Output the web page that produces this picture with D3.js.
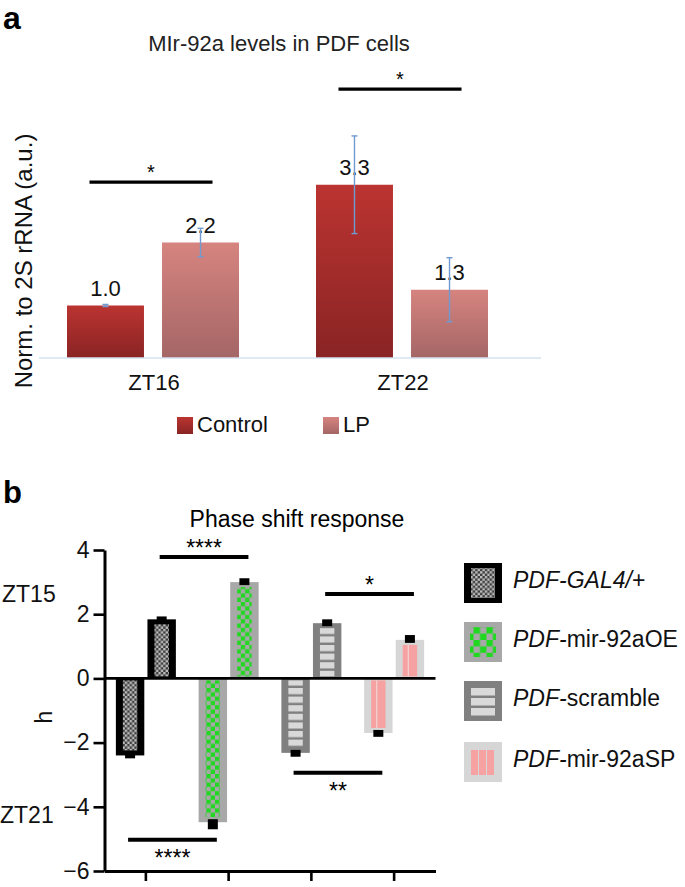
<!DOCTYPE html>
<html><head><meta charset="utf-8">
<script src="https://cdn.jsdelivr.net/npm/d3@7"></script>
<style>
body{margin:0;background:#fff}
svg{display:block;font-family:"Liberation Sans",Arial,Helvetica,sans-serif}
</style>
</head><body>
<script>
// ---------- Panel a data ----------
const aCategories = ["ZT16", "ZT22"];
const aSeries = ["Control", "LP"];
const aControl = [1.0, 3.3];
const aLP = [2.2, 1.3];
const aControlErr = [0.02, 0.93];
const aLPErr = [0.27, 0.61];
const aSigLevels = [3.35, 5.12];
const aSigLabels = ["*", "*"];
const aTitle = "MIr-92a levels in PDF cells";
const aYLabel = "Norm. to 2S rRNA (a.u.)";

// ---------- Panel b data ----------
const bGenotypes = ["PDF-GAL4/+", "PDF-mir-92aOE", "PDF-scramble", "PDF-mir-92aSP"];
const bPulses = ["ZT21", "ZT15"];
const bZT21 = [-2.4, -4.48, -2.32, -1.7];
const bZT15 = [1.84, 3.0, 1.72, 1.2];
const bZT21Sem = [0.09, 0.22, 0.12, 0.12];
const bZT15Sem = [0.09, 0.12, 0.12, 0.15];
const bTicks = [-6, -4, -2, 0, 2, 4];
const bSigFrom = [0, 2, 2, 0];
const bSigTo = [1, 3, 3, 1];
const bSigPulse = ["ZT15", "ZT15", "ZT21", "ZT21"];
const bSigLevel = [3.78, 2.63, -2.94, -5.03];
const bSigLabel = ["****", "*", "**", "****"];
const bTitle = "Phase shift response";
const bYLabel = "h";

// ---------- setup ----------
const svg = d3.select("body").append("svg").attr("width", 685).attr("height", 887);
const defs = svg.append("defs");
function vgrad(id, c1, c2) {
  const g = defs.append("linearGradient").attr("id", id)
    .attr("x1", 0).attr("x2", 0).attr("y1", 0).attr("y2", 1);
  g.append("stop").attr("offset", "0%").attr("stop-color", c1);
  g.append("stop").attr("offset", "100%").attr("stop-color", c2);
}
vgrad("gControl", "#bb3431", "#892424");
vgrad("gLP", "#d6847f", "#a46666");
const aFill = {Control: "url(#gControl)", LP: "url(#gLP)"};

// patterns
function checker(id, size, bg, fg) {
  const p = defs.append("pattern").attr("id", id).attr("patternUnits", "userSpaceOnUse")
    .attr("width", size * 2).attr("height", size * 2);
  p.append("rect").attr("width", size * 2).attr("height", size * 2).attr("fill", bg);
  p.append("rect").attr("width", size).attr("height", size).attr("fill", fg);
  p.append("rect").attr("x", size).attr("y", size).attr("width", size).attr("height", size).attr("fill", fg);
}
checker("pGal4", 2.4, "#3c3c3c", "#bdbdbd");
checker("pOE", 4.3, "#a8a8a8", "#1fd81f");
checker("pOEL", 6.4, "#a8a8a8", "#1fd81f");
(function () {
  const p = defs.append("pattern").attr("id", "pScr").attr("patternUnits", "userSpaceOnUse")
    .attr("width", 10).attr("height", 8.6);
  p.append("rect").attr("width", 10).attr("height", 8.6).attr("fill", "#7f7f7f");
  p.append("rect").attr("width", 10).attr("height", 6.2).attr("fill", "#d9d9d9");
})();

const bStyle = [
  {outer: "#000000", inner: "url(#pGal4)"},
  {outer: "#a8a8a8", inner: "url(#pOE)"},
  {outer: "#808080", inner: "url(#pScr)"},
  {outer: "#d6d6d6", inner: "#f7a2a2", line: "#f5d2d2"}
];

// ================= Panel a =================
const ga = svg.append("g");
ga.append("text").attr("x", 3).attr("y", 29).attr("font-size", 32).attr("font-weight", "bold").text("a");
ga.append("text").attr("x", 279).attr("y", 51).attr("text-anchor", "middle")
  .attr("font-size", 22).attr("fill", "#222").text(aTitle);
ga.append("text").attr("transform", "translate(32,261) rotate(-90)").attr("text-anchor", "middle")
  .attr("font-size", 24).attr("fill", "#111").text(aYLabel);

const xa0 = d3.scaleBand().domain(aCategories).range([28.5, 526.5]);
const xa1 = d3.scaleBand().domain(aSeries).range([38.5, 210.5]).paddingInner(0.19);
const ya = d3.scaleLinear().domain([0, 4]).range([358, 148]);

const aRows = [];
aCategories.forEach((c, i) => {
  aRows.push({cat: c, ser: "Control", v: aControl[i], e: aControlErr[i]});
  aRows.push({cat: c, ser: "LP", v: aLP[i], e: aLPErr[i]});
});

ga.selectAll("rect.bar").data(aRows).join("rect").attr("class", "bar")
  .attr("x", d => xa0(d.cat) + xa1(d.ser))
  .attr("y", d => ya(d.v))
  .attr("width", xa1.bandwidth())
  .attr("height", d => ya(0) - ya(d.v))
  .attr("fill", d => aFill[d.ser]);

ga.append("line").attr("x1", 39).attr("x2", 541).attr("y1", ya(0)).attr("y2", ya(0))
  .attr("stroke", "#d5e3f1").attr("stroke-width", 1.5);

ga.selectAll("text.val").data(aRows).join("text").attr("class", "val")
  .attr("x", d => xa0(d.cat) + xa1(d.ser) + xa1.bandwidth() / 2)
  .attr("y", d => ya(d.v) - 10)
  .attr("text-anchor", "middle").attr("font-size", 22).attr("fill", "#111")
  .text(d => d3.format(".1f")(d.v));

const eg = ga.selectAll("g.err").data(aRows).join("g").attr("class", "err")
  .attr("stroke", "#6f9bd2").attr("stroke-width", 1.4);
eg.append("line")
  .attr("x1", d => xa0(d.cat) + xa1(d.ser) + xa1.bandwidth() / 2)
  .attr("x2", d => xa0(d.cat) + xa1(d.ser) + xa1.bandwidth() / 2)
  .attr("y1", d => ya(d.v + d.e)).attr("y2", d => ya(d.v - d.e));
[1, -1].forEach(s => {
  eg.append("line")
    .attr("x1", d => xa0(d.cat) + xa1(d.ser) + xa1.bandwidth() / 2 - 3)
    .attr("x2", d => xa0(d.cat) + xa1(d.ser) + xa1.bandwidth() / 2 + 3)
    .attr("y1", d => ya(d.v + s * d.e)).attr("y2", d => ya(d.v + s * d.e));
});

aCategories.forEach((c, i) => {
  const x1 = xa0(c) + 61, x2 = xa0(c) + 184, y = ya(aSigLevels[i]);
  ga.append("line").attr("x1", x1).attr("x2", x2).attr("y1", y).attr("y2", y)
    .attr("stroke", "#000").attr("stroke-width", 3.2);
  ga.append("text").attr("x", (x1 + x2) / 2).attr("y", y - 3).attr("text-anchor", "middle")
    .attr("font-size", 20).text(aSigLabels[i]);
});

ga.selectAll("text.cat").data(aCategories).join("text").attr("class", "cat")
  .attr("x", d => xa0(d) + xa0.bandwidth() / 2 + 1).attr("y", 390)
  .attr("text-anchor", "middle").attr("font-size", 22).attr("fill", "#111").text(d => d);

const aLegX = [177, 323];
aSeries.forEach((s, i) => {
  ga.append("rect").attr("x", aLegX[i]).attr("y", 417).attr("width", 16).attr("height", 17).attr("fill", aFill[s]);
  ga.append("text").attr("x", aLegX[i] + 20).attr("y", 432).attr("font-size", 22).attr("fill", "#111").text(s);
});

// ================= Panel b =================
const gb = svg.append("g");
gb.append("text").attr("x", 3).attr("y", 503).attr("font-size", 31).attr("font-weight", "bold").text("b");
gb.append("text").attr("x", 297).attr("y", 527).attr("text-anchor", "middle")
  .attr("font-size", 23).text(bTitle);

const xb = d3.scaleBand().domain(bGenotypes).range([104.5, 435.5]);
const xbi = d3.scaleBand().domain(bPulses).range([-30, 30]).paddingInner(0.1);
const yb = d3.scaleLinear().domain([-6, 4]).range([871, 550]);

const bRows = [];
bGenotypes.forEach((g, i) => {
  bRows.push({gi: i, g: g, p: "ZT21", v: bZT21[i], sem: bZT21Sem[i]});
  bRows.push({gi: i, g: g, p: "ZT15", v: bZT15[i], sem: bZT15Sem[i]});
});
const bx = d => xb(d.g) + xb.bandwidth() / 2 + xbi(d.p);
const bw = xbi.bandwidth();

gb.selectAll("rect.outer").data(bRows).join("rect").attr("class", "outer")
  .attr("x", bx).attr("width", bw)
  .attr("y", d => Math.min(yb(0), yb(d.v)))
  .attr("height", d => Math.abs(yb(d.v) - yb(0)))
  .attr("fill", d => bStyle[d.gi].outer);

function innerBox(d) {
  const y0 = yb(0), y1 = yb(d.v);
  let top, bot;
  if (d.v > 0) { top = y1 + 5; bot = y0 - 2; } else { top = y0 + 2; bot = y1 - 5; }
  return {x: bx(d) + 7, w: bw - 14, y: top, h: bot - top};
}
gb.selectAll("rect.inner").data(bRows).join("rect").attr("class", "inner")
  .attr("x", d => innerBox(d).x).attr("width", d => innerBox(d).w)
  .attr("y", d => innerBox(d).y).attr("height", d => innerBox(d).h)
  .attr("fill", d => bStyle[d.gi].inner);
gb.selectAll("rect.sline").data(bRows.filter(d => bStyle[d.gi].line)).join("rect").attr("class", "sline")
  .attr("x", d => innerBox(d).x + 5).attr("width", 1.2)
  .attr("y", d => innerBox(d).y).attr("height", d => innerBox(d).h)
  .attr("fill", d => bStyle[d.gi].line);

// error squares
gb.selectAll("rect.err").data(bRows).join("rect").attr("class", "err")
  .attr("x", d => bx(d) + bw / 2 - 5).attr("width", 10)
  .attr("y", d => d.v > 0 ? yb(d.v + d.sem) : yb(d.v) - 3)
  .attr("height", d => Math.abs(yb(d.v + Math.sign(d.v) * d.sem) - yb(d.v)) + 3)
  .attr("fill", "#000");

// zero line
gb.append("line").attr("x1", 104.5).attr("x2", 435.5).attr("y1", yb(0)).attr("y2", yb(0))
  .attr("stroke", "#000").attr("stroke-width", 2.6);

// axes
const yAxis = gb.append("g").attr("transform", "translate(104.5,0)")
  .call(d3.axisLeft(yb).tickValues(bTicks).tickSize(11).tickSizeOuter(0).tickPadding(4));
yAxis.select(".domain").attr("stroke-width", 3);
yAxis.selectAll(".tick line").attr("stroke-width", 2.6);
yAxis.selectAll(".tick text").attr("font-size", 23).attr("font-family", "Liberation Sans, Arial, sans-serif").attr("fill", "#111");

const xAxis = gb.append("g").attr("transform", `translate(0,${yb(-6)})`)
  .call(d3.axisBottom(xb).tickSize(10).tickSizeOuter(0).tickFormat(""));
xAxis.select(".domain").attr("stroke-width", 3);
xAxis.selectAll(".tick line").attr("stroke-width", 2.6);

gb.append("text").attr("x", 2).attr("y", 602).attr("font-size", 23).attr("fill", "#111").text("ZT15");
gb.append("text").attr("x", 0).attr("y", 823).attr("font-size", 23).attr("fill", "#111").text("ZT21");
gb.append("text").attr("transform", "translate(52,717) rotate(-90)").attr("text-anchor", "middle")
  .attr("font-size", 23).attr("fill", "#111").text(bYLabel);

// significance
bSigLabel.forEach((lab, i) => {
  const c1 = xb(bGenotypes[bSigFrom[i]]) + xb.bandwidth() / 2 + xbi(bSigPulse[i]) + bw / 2;
  const c2 = xb(bGenotypes[bSigTo[i]]) + xb.bandwidth() / 2 + xbi(bSigPulse[i]) + bw / 2;
  const x1 = c1 - 2, x2 = c2 + 4, y = yb(bSigLevel[i]);
  gb.append("line").attr("x1", x1).attr("x2", x2).attr("y1", y).attr("y2", y)
    .attr("stroke", "#000").attr("stroke-width", 4);
  const above = bSigLevel[i] > 0;
  const cy = above ? y - 14 : y + 13;
  gb.append("text").attr("x", (x1 + x2) / 2).attr("y", cy + 13).attr("text-anchor", "middle")
    .attr("font-size", 23).text(lab);
});

// legend b
const legY = [563, 622, 681, 742];
bGenotypes.forEach((g, i) => {
  const x = 464, y = legY[i], w = 38, h = 40;
  gb.append("rect").attr("x", x).attr("y", y).attr("width", w).attr("height", h).attr("fill", bStyle[i].outer);
  if (i === 0) {
    gb.append("rect").attr("x", x + 7).attr("y", y + 5).attr("width", w - 14).attr("height", h - 10).attr("fill", "url(#pGal4)");
  } else if (i === 1) {
    gb.append("rect").attr("x", x + 6).attr("y", y + 5).attr("width", w - 12).attr("height", h - 10).attr("fill", "url(#pOEL)");
  } else if (i === 2) {
    d3.range(3).forEach(k => gb.append("rect").attr("x", x + 7).attr("y", y + 7 + k * 10)
      .attr("width", w - 14).attr("height", 7.5).attr("fill", "#d9d9d9"));
  } else {
    d3.range(3).forEach(k => gb.append("rect").attr("x", x + 7 + k * 8).attr("y", y + 8)
      .attr("width", 7).attr("height", h - 15).attr("fill", "#f7a2a2"));
  }
  const ital = g.startsWith("PDF-GAL4") ? "PDF-GAL4/" : "PDF-";
  const t = gb.append("text").attr("x", 513).attr("y", y + 25).attr("font-size", 23).attr("fill", "#111");
  t.append("tspan").attr("font-style", "italic").text(ital);
  t.append("tspan").text(g.slice(ital.length));
});
</script>
</body></html>
